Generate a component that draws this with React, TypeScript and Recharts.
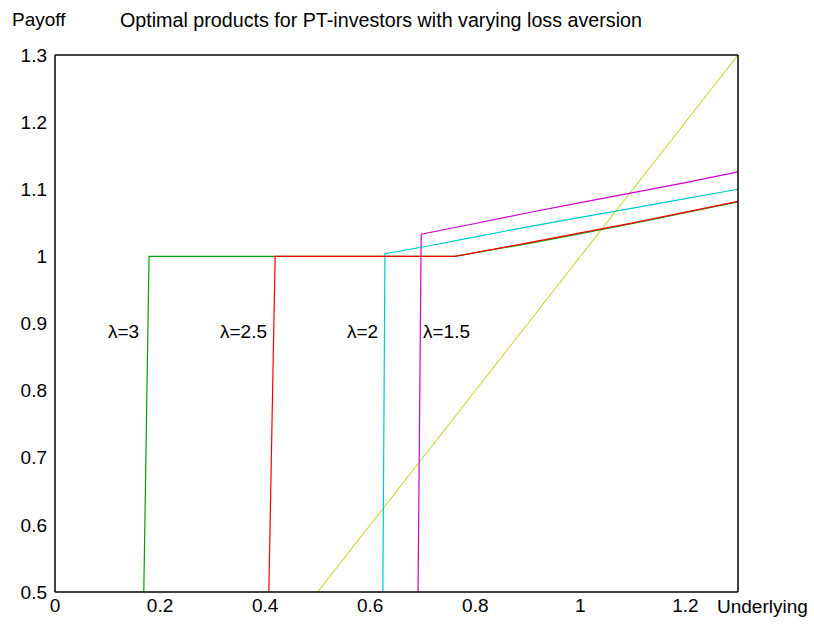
import React from 'react';
import { LineChart, Line, XAxis, YAxis } from 'recharts';

const xTicks = [0, 0.2, 0.4, 0.6, 0.8, 1, 1.2];
const yTicks = [0.5, 0.6, 0.7, 0.8, 0.9, 1, 1.1, 1.2, 1.3];
const innerXTicks = [0.2, 0.4, 0.6, 0.8, 1, 1.2];
const innerYTicks = [0.6, 0.7, 0.8, 0.9, 1, 1.1, 1.2];

const lambda3 = [
  { x: 0.169, y: 0.5 }, { x: 0.179, y: 1.0 }, { x: 0.761, y: 1.0 },
  { x: 0.9, y: 1.019 }, { x: 1.0, y: 1.034 }, { x: 1.1, y: 1.049 },
  { x: 1.2, y: 1.065 }, { x: 1.3, y: 1.081 },
];
const lambda25 = [
  { x: 0.407, y: 0.5 }, { x: 0.419, y: 1.0 }, { x: 0.761, y: 1.0 },
  { x: 0.9, y: 1.02 }, { x: 1.0, y: 1.035 }, { x: 1.1, y: 1.05 },
  { x: 1.2, y: 1.066 }, { x: 1.3, y: 1.082 },
];
const lambda2 = [
  { x: 0.624, y: 0.5 }, { x: 0.628, y: 1.004 }, { x: 0.7, y: 1.014 },
  { x: 0.8, y: 1.029 }, { x: 0.9, y: 1.044 }, { x: 1.0, y: 1.058 },
  { x: 1.1, y: 1.072 }, { x: 1.2, y: 1.086 }, { x: 1.3, y: 1.1 },
];
const lambda15 = [
  { x: 0.691, y: 0.5 }, { x: 0.697, y: 1.033 }, { x: 0.8, y: 1.049 },
  { x: 0.9, y: 1.065 }, { x: 1.0, y: 1.08 }, { x: 1.1, y: 1.095 },
  { x: 1.2, y: 1.11 }, { x: 1.3, y: 1.126 },
];
const underlying = [
  { x: 0.5, y: 0.5 }, { x: 0.6, y: 0.6 }, { x: 0.7, y: 0.7 }, { x: 0.8, y: 0.8 },
  { x: 0.9, y: 0.9 }, { x: 1.0, y: 1.0 }, { x: 1.1, y: 1.1 }, { x: 1.2, y: 1.2 },
  { x: 1.3, y: 1.3 },
];

const font = '"Liberation Sans", Arial, Helvetica, sans-serif';
const tickStyle = { fill: '#000', fontSize: 19, fontFamily: font };

const textStyle: React.CSSProperties = {
  position: 'absolute',
  fontFamily: font,
  fontSize: 19,
  color: '#000',
  whiteSpace: 'nowrap',
  lineHeight: '22px',
};

export default function App() {
  return (
    <div style={{ position: 'absolute', left: 0, top: 0, width: 814, height: 628, background: '#fff' }}>
      <LineChart
        width={814}
        height={628}
        margin={{ top: 55, right: 76, bottom: 6, left: 0 }}
      >
        <XAxis
          xAxisId="x"
          type="number"
          dataKey="x"
          domain={[0, 1.3]}
          ticks={xTicks}
          allowDataOverflow
          tickLine={false}
          tickSize={0}
          tickMargin={7}
          height={30}
          tick={tickStyle}
          axisLine={{ stroke: '#000', strokeWidth: 1.5 }}
        />
        <XAxis
          xAxisId="xin"
          type="number"
          dataKey="x"
          domain={[0, 1.3]}
          ticks={innerXTicks}
          allowDataOverflow
          mirror
          tick={false}
          axisLine={false}
          tickSize={6}
          tickLine={{ stroke: '#000', strokeWidth: 1 }}
        />
        <XAxis
          xAxisId="xtop"
          orientation="top"
          type="number"
          dataKey="x"
          domain={[0, 1.3]}
          ticks={innerXTicks}
          allowDataOverflow
          mirror
          tick={false}
          tickSize={6}
          axisLine={{ stroke: '#000', strokeWidth: 1.5 }}
          tickLine={{ stroke: '#000', strokeWidth: 1 }}
        />
        <YAxis
          yAxisId="y"
          type="number"
          dataKey="y"
          domain={[0.5, 1.3]}
          ticks={yTicks}
          allowDataOverflow
          width={55}
          tickLine={false}
          tickSize={0}
          tickMargin={8}
          tick={tickStyle}
          axisLine={{ stroke: '#000', strokeWidth: 1.5 }}
        />
        <YAxis
          yAxisId="yin"
          type="number"
          dataKey="y"
          domain={[0.5, 1.3]}
          ticks={innerYTicks}
          allowDataOverflow
          mirror
          tick={false}
          axisLine={false}
          tickSize={6}
          tickLine={{ stroke: '#000', strokeWidth: 1 }}
        />
        <YAxis
          yAxisId="yright"
          orientation="right"
          type="number"
          dataKey="y"
          domain={[0.5, 1.3]}
          ticks={innerYTicks}
          allowDataOverflow
          mirror
          tick={false}
          tickSize={6}
          axisLine={{ stroke: '#000', strokeWidth: 1.5 }}
          tickLine={{ stroke: '#000', strokeWidth: 1 }}
        />
        <Line xAxisId="x" yAxisId="y" data={underlying} dataKey="y" type="linear" stroke="#c8c800" strokeWidth={1} dot={false} isAnimationActive={false} />
        <Line xAxisId="x" yAxisId="y" data={lambda15} dataKey="y" type="linear" stroke="#cc00cc" strokeWidth={1.2} dot={false} isAnimationActive={false} />
        <Line xAxisId="x" yAxisId="y" data={lambda2} dataKey="y" type="linear" stroke="#00c8c8" strokeWidth={1.2} dot={false} isAnimationActive={false} />
        <Line xAxisId="x" yAxisId="y" data={lambda3} dataKey="y" type="linear" stroke="#00a000" strokeWidth={1.2} dot={false} isAnimationActive={false} />
        <Line xAxisId="x" yAxisId="y" data={lambda25} dataKey="y" type="linear" stroke="#ff0000" strokeWidth={1.2} dot={false} isAnimationActive={false} />
      </LineChart>
      <div style={{ ...textStyle, left: 12, top: 9 }}>Payoff</div>
      <div style={{ ...textStyle, left: 120, top: 9, fontSize: 19.7 }}>Optimal products for PT-investors with varying loss aversion</div>
      <div style={{ ...textStyle, left: 717, top: 596 }}>Underlying</div>
      <div style={{ ...textStyle, left: 108, top: 321 }}>λ=3</div>
      <div style={{ ...textStyle, left: 220, top: 321 }}>λ=2.5</div>
      <div style={{ ...textStyle, left: 347, top: 321 }}>λ=2</div>
      <div style={{ ...textStyle, left: 423, top: 321 }}>λ=1.5</div>
    </div>
  );
}
